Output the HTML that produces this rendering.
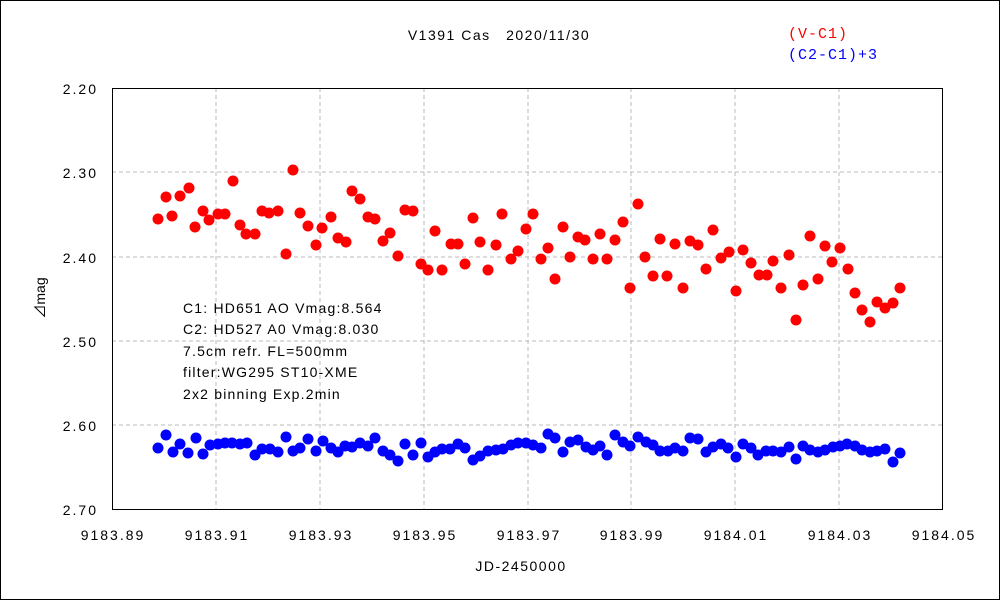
<!DOCTYPE html><html><head><meta charset="utf-8"><style>body{margin:0;background:#fff}svg text{font-family:"Liberation Sans","Noto Sans CJK JP",sans-serif;font-size:14px;fill:#000}</style></head><body>
<svg width="1000" height="600" xmlns="http://www.w3.org/2000/svg" id="s">
<rect x="0.5" y="0.5" width="999" height="599" fill="#fff" stroke="#000"/>
<g stroke="#bbb" stroke-dasharray="4,3">
<line x1="216" y1="88" x2="216" y2="509"/><line x1="320" y1="88" x2="320" y2="509"/><line x1="424" y1="88" x2="424" y2="509"/><line x1="528" y1="88" x2="528" y2="509"/><line x1="631" y1="88" x2="631" y2="509"/><line x1="735" y1="88" x2="735" y2="509"/><line x1="839" y1="88" x2="839" y2="509"/>
<line x1="112" y1="172" x2="943" y2="172"/><line x1="112" y1="257" x2="943" y2="257"/><line x1="112" y1="341" x2="943" y2="341"/><line x1="112" y1="425" x2="943" y2="425"/>
</g>
<rect x="112.5" y="88.5" width="830" height="421" fill="none" stroke="#000"/>
<g text-anchor="end" style="letter-spacing:2px"><text x="98" y="94">2.20</text><text x="98" y="178">2.30</text><text x="98" y="263">2.40</text><text x="98" y="347">2.50</text><text x="98" y="431">2.60</text><text x="98" y="515">2.70</text></g>
<g text-anchor="middle" style="letter-spacing:2px"><text x="113" y="540">9183.89</text><text x="217" y="540">9183.91</text><text x="321" y="540">9183.93</text><text x="425" y="540">9183.95</text><text x="529" y="540">9183.97</text><text x="632" y="540">9183.99</text><text x="736" y="540">9184.01</text><text x="840" y="540">9184.03</text><text x="944" y="540">9184.05</text>
<text x="521" y="571" style="letter-spacing:1.5px">JD-2450000</text><text x="499" y="40" style="letter-spacing:1.5px">V1391 Cas　2020/11/30</text></g>
<text x="45" y="298" text-anchor="middle" transform="rotate(-90 45 298)">⊿mag</text>
<text x="788" y="38" style="fill:#f00;font-size:15px;font-family:'Liberation Mono',monospace;letter-spacing:1px">(V-C1)</text>
<text x="788" y="59" style="fill:#00f;font-size:15px;font-family:'Liberation Mono',monospace;letter-spacing:1px">(C2-C1)+3</text>
<g style="letter-spacing:1.2px"><text x="183" y="313">C1: HD651 AO Vmag:8.564</text><text x="183" y="334">C2: HD527 A0 Vmag:8.030</text><text x="183" y="356">7.5cm refr. FL=500mm</text><text x="183" y="377">filter:WG295 ST10-XME</text><text x="183" y="399">2x2 binning Exp.2min</text></g>
<g id="r" fill="#f00"></g><g id="b" fill="#00f"></g>
</svg>
<script>
var R=[158,219,166,197,172,216,180,196,189,188,195,227,203,211,209,220,218,214,225,214,233,181,240,225,246,234,255,234,262,211,269,213,278,211,286,254,293,170,300,213,308,226,316,245,322,228,331,217,338,238,346,242,352,191,360,199,368,217,375,219,383,241,390,233,398,256,405,210,413,211,421,264,428,270,435,231,442,270,451,244,458,244,465,264,473,218,480,242,488,270,496,245,502,214,511,259,518,251,526,229,533,214,541,259,548,248,555,279,563,227,570,257,578,237,585,240,593,259,600,234,607,259,615,240,623,222,630,288,638,204,645,257,653,276,660,239,667,276,675,244,683,288,690,241,698,245,706,269,713,230,721,258,729,252,736,291,743,250,751,263,759,275,767,275,773,261,781,288,789,255,796,320,803,285,810,236,818,279,825,246,832,262,840,248,848,269,855,293,862,310,870,322,877,302,885,308,893,303,900,288];
var B=[158,448,166,435,173,452,180,444,188,453,196,438,203,454,210,445,218,444,225,443,232,443,240,444,247,443,255,455,262,449,270,449,278,452,286,437,293,451,300,448,308,439,316,451,323,441,331,448,338,452,345,446,352,447,360,443,368,446,375,438,383,451,390,455,398,461,405,444,413,455,421,443,428,457,435,452,442,449,450,449,458,444,465,448,473,460,480,456,488,451,496,450,503,449,511,445,518,443,526,443,533,445,541,448,548,434,555,438,563,452,570,442,578,440,586,447,593,450,600,446,607,455,615,435,623,442,630,446,638,437,646,442,653,445,660,451,668,451,675,448,683,451,690,438,698,439,706,452,713,447,721,444,728,448,736,457,743,444,751,448,758,455,766,451,773,451,781,452,789,447,796,459,803,446,810,450,818,452,825,450,833,447,840,446,847,444,855,446,862,450,870,452,877,451,885,449,893,462,900,453];
function d(a,id){var g=document.getElementById(id),h='';for(var i=0;i<a.length;i+=2)h+='<circle cx="'+a[i]+'" cy="'+a[i+1]+'" r="5.5"/>';g.innerHTML=h;}
d(R,'r');d(B,'b');
</script>
</body></html>
